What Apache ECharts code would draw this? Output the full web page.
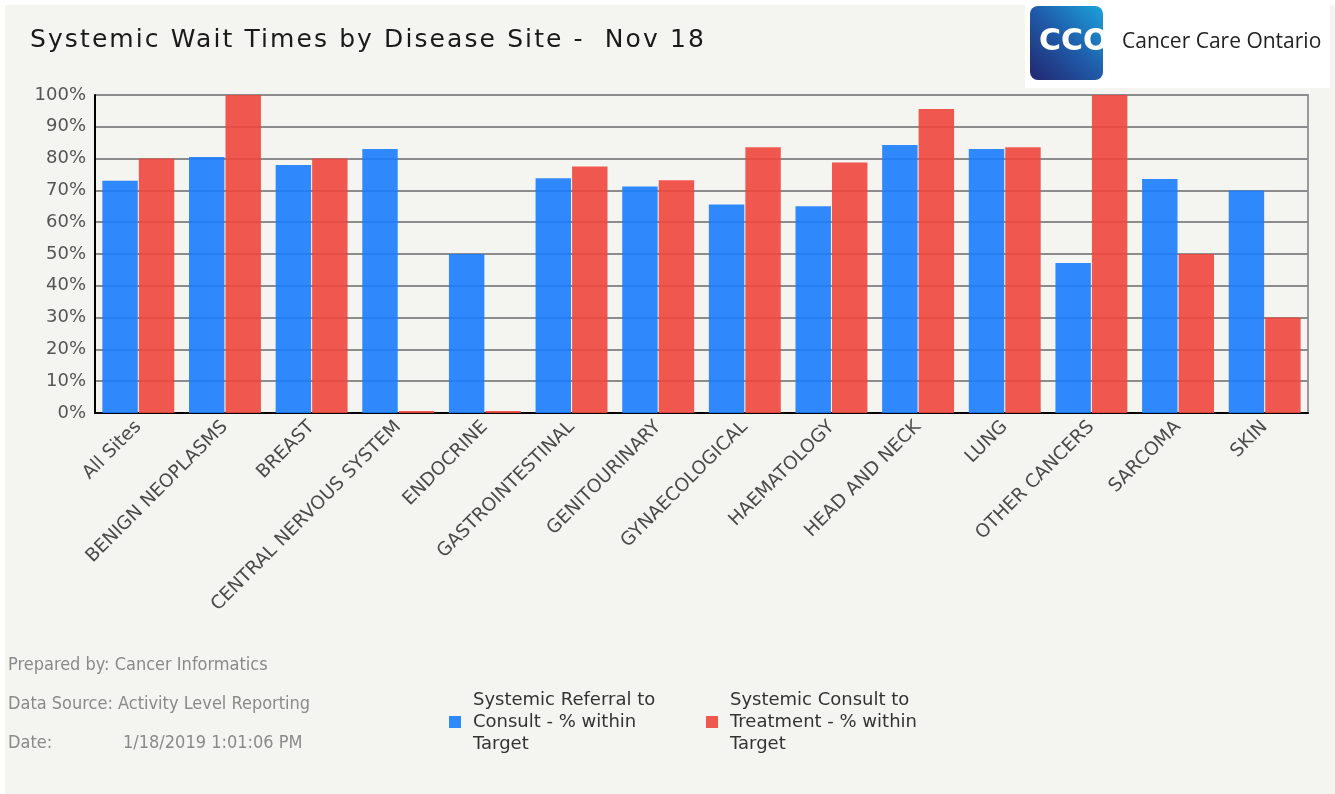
<!DOCTYPE html>
<html>
<head>
<meta charset="utf-8">
<script src="https://cdn.jsdelivr.net/npm/echarts@6/dist/echarts.min.js"></script>
<style>
  html, body { margin: 0; padding: 0; background: #ffffff; }
  #chart { position: absolute; left: 5px; top: 5px; width: 1330px; height: 789px; }
  #title {
    position: absolute; left: 30px; top: 24px;
    font: 25px "DejaVu Sans", sans-serif; letter-spacing: 2.1px; color: #1a1a1a;
    white-space: pre;
  }
</style>
</head>
<body>
<div id="chart"></div>
<div id="title"></div>
<script>
const categories = [
  "All Sites", "BENIGN NEOPLASMS", "BREAST", "CENTRAL NERVOUS SYSTEM", "ENDOCRINE",
  "GASTROINTESTINAL", "GENITOURINARY", "GYNAECOLOGICAL", "HAEMATOLOGY", "HEAD AND NECK",
  "LUNG", "OTHER CANCERS", "SARCOMA", "SKIN"
]
const referralToConsult = [73, 80.5, 78, 83, 50, 73.8, 71.2, 65.6, 65, 84.3, 83, 47.2, 73.6, 70]
const consultToTreatment = [80, 100, 80, 0, 0, 77.5, 73.2, 83.6, 78.8, 95.6, 83.6, 100, 50, 30]
const seriesNames = [
  "Systemic Referral to Consult - % within Target",
  "Systemic Consult to Treatment - % within Target"
]
const legendLabels = {
  [seriesNames[0]]: "Systemic Referral to\nConsult - % within\nTarget",
  [seriesNames[1]]: "Systemic Consult to\nTreatment - % within\nTarget"
}
const titleText = "Systemic Wait Times by Disease Site -  Nov 18"
const footerLines = [
  "Prepared by: Cancer Informatics",
  "Data Source: Activity Level Reporting",
  "Date:"
]
const reportDate = "1/18/2019 1:01:06 PM"

document.getElementById("title").textContent = titleText

const chart = echarts.init(document.getElementById("chart"))

const footerFont = "18px 'DejaVu Sans Condensed', 'Liberation Sans', sans-serif"
const legendBase = {
  orient: "vertical",
  top: 684,
  padding: 0,
  itemWidth: 12,
  itemHeight: 12,
  icon: "rect",
  formatter: (name) => legendLabels[name],
  textStyle: {
    fontFamily: "DejaVu Sans",
    fontSize: 18,
    lineHeight: 22,
    color: "#333",
    padding: [0, 0, 0, 7]
  }
}

chart.setOption({
  backgroundColor: "#f4f4f0",
  animation: false,
  legend: [
    Object.assign({}, legendBase, { left: 444, data: [seriesNames[0]] }),
    Object.assign({}, legendBase, { left: 701, data: [seriesNames[1]] })
  ],
  grid: {
    left: 90, right: 27, top: 90, bottom: 381,
    show: true, borderColor: "#999", borderWidth: 2, backgroundColor: "transparent"
  },
  xAxis: {
    type: "category",
    data: categories,
    axisLine: { lineStyle: { color: "#000", width: 2 } },
    axisTick: { show: false },
    axisLabel: {
      interval: 0,
      rotate: 45,
      margin: 11,
      fontFamily: "DejaVu Sans",
      fontSize: 18.5,
      color: "#4a4a4a"
    }
  },
  yAxis: {
    type: "value",
    min: 0,
    max: 100,
    interval: 10,
    axisLine: { show: true, lineStyle: { color: "#000", width: 2 } },
    axisLabel: {
      formatter: (v) => v + "%",
      fontFamily: "DejaVu Sans",
      fontSize: 18,
      color: "#555",
      margin: 9
    },
    splitLine: { lineStyle: { color: "#8c8c8c", width: 2 } }
  },
  series: [
    {
      name: seriesNames[0],
      type: "bar",
      data: referralToConsult,
      barCategoryGap: "17%",
      barGap: "3%",
      itemStyle: { color: "rgba(25,125,253,0.9)" }
    },
    {
      name: seriesNames[1],
      type: "bar",
      data: consultToTreatment,
      barMinHeight: 2,
      itemStyle: { color: "rgba(240,71,61,0.9)" }
    }
  ],
  graphic: [
    { type: "rect", left: 1020, top: -5, shape: { width: 305, height: 88 }, style: { fill: "#ffffff" } },
    {
      type: "rect", left: 1025, top: 1,
      shape: { width: 73, height: 74, r: 8 },
      style: {
        fill: new echarts.graphic.LinearGradient(1, 0, 0, 1, [
          { offset: 0, color: "#1ba3dc" },
          { offset: 0.5, color: "#1f5aa8" },
          { offset: 1, color: "#23276f" }
        ])
      }
    },
    {
      type: "text", left: 1034, top: 22,
      style: { text: "CCO", fill: "#ffffff", font: "bold 30px 'DejaVu Sans'" }
    },
    {
      type: "text", left: 1117, top: 27,
      style: { text: "Cancer Care Ontario", fill: "#222", font: "21px 'Open Sans'" }
    },
    { type: "text", left: 3, top: 651, style: { text: footerLines[0], fill: "#8a8a8a", font: footerFont } },
    { type: "text", left: 3, top: 690, style: { text: footerLines[1], fill: "#8a8a8a", font: footerFont } },
    { type: "text", left: 3, top: 729, style: { text: footerLines[2], fill: "#8a8a8a", font: footerFont } },
    { type: "text", left: 118, top: 729, style: { text: reportDate, fill: "#8a8a8a", font: footerFont } }
  ]
})
</script>
</body>
</html>
